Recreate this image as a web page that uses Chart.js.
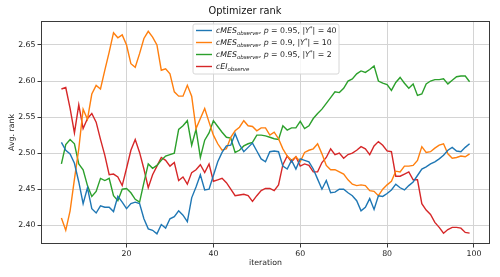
<!DOCTYPE html>
<html><head><meta charset="utf-8">
<script src="https://cdn.jsdelivr.net/npm/chart.js@4/dist/chart.umd.min.js"></script>
<style>html,body{margin:0;padding:0;background:#fff}#wrap{width:500px;height:277px}</style>
</head><body><div id="wrap"><canvas id="c" width="500" height="277"></canvas></div>
<script>
const iterations = [5,6,7,8,9,10,11,12,13,14,15,16,17,18,19,20,21,22,23,24,25,26,27,28,29,30,31,32,33,34,35,36,37,38,39,40,41,42,43,44,45,46,47,48,49,50,51,52,53,54,55,56,57,58,59,60,61,62,63,64,65,66,67,68,69,70,71,72,73,74,75,76,77,78,79,80,81,82,83,84,85,86,87,88,89,90,91,92,93,94,95,96,97,98,99];

const cmes40 = [2.515,2.504,2.499,2.486,2.460,2.430,2.452,2.423,2.417,2.427,
 2.425,2.425,2.419,2.440,2.432,2.423,2.430,2.432,2.430,2.409,
 2.395,2.393,2.388,2.401,2.396,2.409,2.412,2.420,2.414,2.405,
 2.438,2.453,2.470,2.449,2.450,2.469,2.488,2.501,2.510,2.511,
 2.527,2.512,2.502,2.508,2.514,2.503,2.492,2.488,2.502,2.503,
 2.502,2.482,2.478,2.490,2.478,2.492,2.490,2.488,2.478,2.464,
 2.450,2.462,2.445,2.446,2.450,2.450,2.445,2.441,2.434,2.420,
 2.425,2.437,2.422,2.441,2.440,2.444,2.449,2.457,2.452,2.449,
 2.455,2.460,2.469,2.478,2.481,2.485,2.488,2.492,2.497,2.504,
 2.508,2.503,2.502,2.508,2.513];

const cmes10 = [2.410,2.393,2.420,2.464,2.506,2.561,2.547,2.582,2.594,2.589,
 2.615,2.640,2.667,2.660,2.664,2.650,2.624,2.619,2.638,2.659,
 2.669,2.661,2.650,2.615,2.617,2.610,2.585,2.579,2.579,2.594,
 2.579,2.534,2.548,2.562,2.543,2.525,2.513,2.504,2.506,2.522,
 2.531,2.536,2.545,2.538,2.537,2.531,2.535,2.535,2.525,2.529,
 2.520,2.506,2.496,2.490,2.495,2.488,2.501,2.504,2.506,2.513,
 2.499,2.483,2.477,2.477,2.474,2.471,2.463,2.457,2.455,2.456,
 2.455,2.448,2.447,2.441,2.450,2.456,2.461,2.475,2.474,2.482,
 2.482,2.483,2.490,2.509,2.501,2.502,2.507,2.511,2.513,2.499,
 2.493,2.494,2.496,2.495,2.499];

const cmes2 = [2.485,2.512,2.519,2.513,2.485,2.477,2.455,2.440,2.447,2.465,
 2.462,2.465,2.441,2.434,2.450,2.451,2.445,2.436,2.432,2.459,
 2.485,2.479,2.483,2.490,2.496,2.498,2.500,2.533,2.538,2.545,
 2.511,2.533,2.494,2.518,2.528,2.545,2.537,2.529,2.522,2.521,
 2.501,2.504,2.510,2.513,2.515,2.525,2.525,2.524,2.522,2.520,
 2.519,2.538,2.532,2.535,2.535,2.544,2.534,2.538,2.548,2.555,
 2.561,2.569,2.577,2.585,2.584,2.590,2.600,2.603,2.610,2.614,
 2.612,2.616,2.621,2.600,2.597,2.595,2.587,2.598,2.605,2.597,
 2.590,2.596,2.580,2.582,2.596,2.600,2.602,2.602,2.603,2.596,
 2.601,2.606,2.607,2.607,2.599];

const cei = [2.589,2.591,2.562,2.528,2.567,2.534,2.548,2.555,2.543,2.519,
 2.497,2.470,2.471,2.467,2.455,2.479,2.504,2.519,2.501,2.478,
 2.452,2.470,2.482,2.494,2.490,2.482,2.487,2.462,2.467,2.457,
 2.473,2.477,2.484,2.473,2.485,2.461,2.463,2.465,2.459,2.450,
 2.441,2.442,2.443,2.441,2.433,2.441,2.448,2.451,2.451,2.448,
 2.456,2.484,2.496,2.488,2.495,2.482,2.485,2.483,2.474,2.474,
 2.487,2.494,2.506,2.498,2.500,2.493,2.498,2.500,2.504,2.509,
 2.506,2.498,2.510,2.516,2.511,2.503,2.502,2.468,2.468,2.471,
 2.474,2.463,2.463,2.430,2.421,2.415,2.404,2.397,2.389,2.394,
 2.397,2.397,2.396,2.390,2.389];

const xTicks = [20, 40, 60, 80, 100];
const yTicks = [2.40, 2.45, 2.50, 2.55, 2.60, 2.65];

const seriesLabels = [
  'cMES_observe, p = 0.95, |Y*| = 40',
  'cMES_observe, p = 0.9, |Y*| = 10',
  'cMES_observe, p = 0.95, |Y*| = 2',
  'cEI_observe'
];
// legend text pieces: [text, style] with style i=italic, u=upright, sub, sup
const legendPieces = [
  [['cMES','i'],['observe','sub'],[', ','u'],['p','i'],[' = 0.95, |','u'],['Y','i'],['*','sup'],['| = 40','u']],
  [['cMES','i'],['observe','sub'],[', ','u'],['p','i'],[' = 0.9, |','u'],['Y','i'],['*','sup'],['| = 10','u']],
  [['cMES','i'],['observe','sub'],[', ','u'],['p','i'],[' = 0.95, |','u'],['Y','i'],['*','sup'],['| = 2','u']],
  [['cEI','i'],['observe','sub']]
];
const colors = ['#1f77b4', '#ff7f0e', '#2ca02c', '#d62728'];
const seriesValues = [cmes40, cmes10, cmes2, cei];

const FONT = "'DejaVu Sans', sans-serif";

const framePlugin = {
  id: 'frame',
  afterDraw(chart) {
    const {ctx, chartArea: a} = chart;
    ctx.save();
    ctx.strokeStyle = '#3a3a3a';
    ctx.lineWidth = 1;
    ctx.strokeRect(Math.round(a.left) + 0.5, Math.round(a.top) + 0.5,
      Math.round(a.right - a.left) - 1, Math.round(a.bottom - a.top) - 1);
    ctx.restore();
  }
};

const legendPlugin = {
  id: 'mathLegend',
  afterDraw(chart) {
    const ctx = chart.ctx;
    const bx = 193, by = 24, bw = 146, bh = 50, r = 2;
    ctx.save();
    ctx.beginPath();
    ctx.moveTo(bx + r, by);
    ctx.arcTo(bx + bw, by, bx + bw, by + bh, r);
    ctx.arcTo(bx + bw, by + bh, bx, by + bh, r);
    ctx.arcTo(bx, by + bh, bx, by, r);
    ctx.arcTo(bx, by, bx + bw, by, r);
    ctx.closePath();
    ctx.fillStyle = 'rgba(255,255,255,0.8)';
    ctx.fill();
    ctx.strokeStyle = '#d6d6d6';
    ctx.lineWidth = 1;
    ctx.stroke();
    const fs = 7.8;
    legendPieces.forEach((pieces, i) => {
      const cy = 30.5 + i * 12;
      ctx.strokeStyle = colors[i];
      ctx.lineWidth = 1.4;
      ctx.beginPath();
      ctx.moveTo(196, cy);
      ctx.lineTo(212, cy);
      ctx.stroke();
      let x = 216;
      const base = cy + 2.8;
      ctx.fillStyle = '#222';
      ctx.textBaseline = 'alphabetic';
      ctx.textAlign = 'left';
      pieces.forEach(([t, s]) => {
        let y = base, f;
        if (s === 'i') f = 'italic ' + fs + 'px ' + FONT;
        else if (s === 'u') f = fs + 'px ' + FONT;
        else if (s === 'sub') { f = 'italic ' + (fs * 0.7) + 'px ' + FONT; y = base + 1.8; }
        else { f = (fs * 0.7) + 'px ' + FONT; y = base - 3; }
        ctx.font = f;
        ctx.fillText(t, x, y);
        x += ctx.measureText(t).width;
      });
    });
    ctx.restore();
  }
};

new Chart(document.getElementById('c'), {
  type: 'line',
  data: {
    datasets: seriesValues.map((vals, i) => ({
      label: seriesLabels[i],
      data: iterations.map((it, k) => ({x: it, y: vals[k]})),
      borderColor: colors[i],
      backgroundColor: colors[i],
      borderWidth: 1.4,
      pointRadius: 0,
      tension: 0,
      fill: false
    }))
  },
  options: {
    responsive: false,
    animation: false,
    devicePixelRatio: 1,
    layout: {padding: {left: 0, right: 10, top: 0, bottom: 0}},
    plugins: {
      legend: {display: false},
      tooltip: {enabled: false},
      title: {
        display: true,
        text: 'Optimizer rank',
        color: '#111',
        font: {family: FONT, size: 9.8, weight: 'normal', lineHeight: 1.2},
        padding: {top: 6, bottom: 3.2}
      }
    },
    scales: {
      x: {
        type: 'linear',
        min: 0.3,
        max: 103.7,
        afterBuildTicks: s => { s.ticks = xTicks.map(v => ({value: v})); },
        afterFit: s => { s.height = 33; },
        ticks: {color: '#222', font: {family: FONT, size: 7.8}, padding: 2, maxRotation: 0,
          callback: v => String(v)},
        grid: {color: '#d4d4d4', lineWidth: 1, tickLength: 3.5, tickColor: '#3a3a3a', drawTicks: true},
        border: {display: false},
        title: {display: true, text: 'iteration', color: '#222',
          font: {family: FONT, size: 7.8, lineHeight: 1.2}, padding: {top: 0, bottom: 9}}
      },
      y: {
        type: 'linear',
        min: 2.374,
        max: 2.6833,
        afterBuildTicks: s => { s.ticks = yTicks.map(v => ({value: v})); },
        afterFit: s => { s.width = 41; },
        ticks: {color: '#222', font: {family: FONT, size: 7.8}, padding: 2,
          callback: v => Number(v).toFixed(2)},
        grid: {color: '#d4d4d4', lineWidth: 1, tickLength: 3.5, tickColor: '#3a3a3a', drawTicks: true},
        border: {display: false},
        title: {display: true, text: 'Avg. rank', color: '#222',
          font: {family: FONT, size: 7.8, lineHeight: 1.2}, padding: {top: 7, bottom: 0}}
      }
    }
  },
  plugins: [framePlugin, legendPlugin]
});
</script>
</body></html>
